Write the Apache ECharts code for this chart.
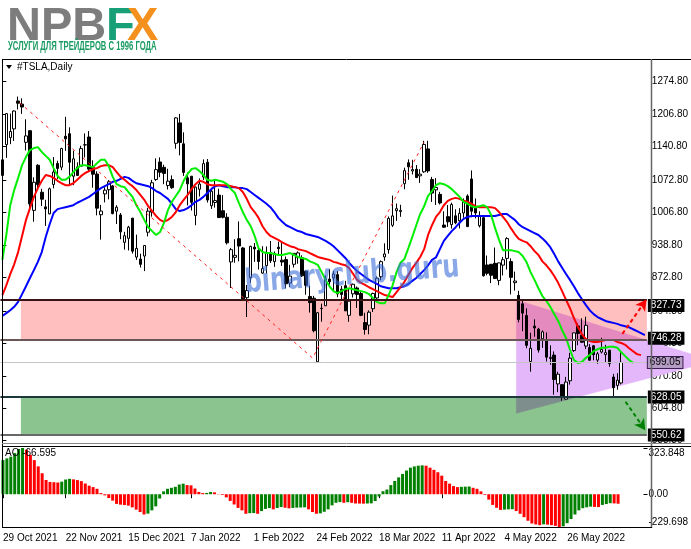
<!DOCTYPE html>
<html><head><meta charset="utf-8">
<script src="https://cdn.jsdelivr.net/npm/echarts/dist/echarts.min.js"></script>
<style>html,body{margin:0;padding:0;background:#fff;}#c{width:691px;height:549px;}</style>
</head><body><div id="c"></div>
<script>
// ---------- DATA ----------
const dates = ['2021-10-29','2021-11-01','2021-11-02','2021-11-03','2021-11-04','2021-11-05','2021-11-08','2021-11-09','2021-11-10','2021-11-11','2021-11-12','2021-11-15','2021-11-16','2021-11-17','2021-11-18','2021-11-19','2021-11-22','2021-11-23','2021-11-24','2021-11-26','2021-11-29','2021-11-30','2021-12-01','2021-12-02','2021-12-03','2021-12-06','2021-12-07','2021-12-08','2021-12-09','2021-12-10','2021-12-13','2021-12-14','2021-12-15','2021-12-16','2021-12-17','2021-12-20','2021-12-21','2021-12-22','2021-12-23','2021-12-27','2021-12-28','2021-12-29','2021-12-30','2021-12-31','2022-01-03','2022-01-04','2022-01-05','2022-01-06','2022-01-07','2022-01-10','2022-01-11','2022-01-12','2022-01-13','2022-01-14','2022-01-18','2022-01-19','2022-01-20','2022-01-21','2022-01-24','2022-01-25','2022-01-26','2022-01-27','2022-01-28','2022-01-31','2022-02-01','2022-02-02','2022-02-03','2022-02-04','2022-02-07','2022-02-08','2022-02-09','2022-02-10','2022-02-11','2022-02-14','2022-02-15','2022-02-16','2022-02-17','2022-02-18','2022-02-22','2022-02-23','2022-02-24','2022-02-25','2022-02-28','2022-03-01','2022-03-02','2022-03-03','2022-03-04','2022-03-07','2022-03-08','2022-03-09','2022-03-10','2022-03-11','2022-03-14','2022-03-15','2022-03-16','2022-03-17','2022-03-18','2022-03-21','2022-03-22','2022-03-23','2022-03-24','2022-03-25','2022-03-28','2022-03-29','2022-03-30','2022-03-31','2022-04-01','2022-04-04','2022-04-05','2022-04-06','2022-04-07','2022-04-08','2022-04-11','2022-04-12','2022-04-13','2022-04-14','2022-04-18','2022-04-19','2022-04-20','2022-04-21','2022-04-22','2022-04-25','2022-04-26','2022-04-27','2022-04-28','2022-04-29','2022-05-02','2022-05-03','2022-05-04','2022-05-05','2022-05-06','2022-05-09','2022-05-10','2022-05-11','2022-05-12','2022-05-13','2022-05-16','2022-05-17','2022-05-18','2022-05-19','2022-05-20','2022-05-23','2022-05-24','2022-05-25','2022-05-26','2022-05-27','2022-05-31','2022-06-01','2022-06-02','2022-06-03','2022-06-06','2022-06-07','2022-06-08','2022-06-09','2022-06-10','2022-06-13','2022-06-14','2022-06-15'];

// [open, high, low, close]
const ohlc = [
[1081.9,1115.2,1073.2,1114.0],[1145.0,1209.0,1118.0,1208.6],[1159.4,1208.6,1146.0,1172.0],[1177.3,1215.4,1152.6,1213.9],[1234.4,1243.5,1217.0,1229.9],
[1228.0,1239.9,1208.0,1222.1],[1149.8,1197.0,1133.0,1162.9],[1173.6,1174.5,1011.5,1023.5],[1010.4,1078.1,987.3,1068.0],[1102.8,1105.0,1054.7,1063.5],
[1047.5,1054.5,1019.2,1033.4],[1017.6,1032.0,978.6,1013.4],[1003.3,1057.2,1002.2,1054.7],[1063.5,1119.6,1055.5,1089.0],[1106.6,1112.0,1075.0,1096.4],
[1098.9,1138.7,1092.7,1137.1],[1162.3,1202.0,1132.4,1156.9],[1167.5,1180.5,1062.7,1109.0],[1080.4,1132.8,1062.0,1116.0],[1099.5,1108.8,1081.0,1081.9],
[1101.0,1142.7,1100.2,1137.0],[1144.4,1168.0,1118.7,1144.8],[1160.7,1172.8,1090.8,1095.0],[1099.1,1113.0,1056.7,1084.6],[1084.8,1090.6,1000.2,1015.0],
[1001.5,1021.6,950.5,1009.0],[1044.2,1057.7,1026.8,1051.8],[1052.7,1072.4,1033.0,1069.0],[1060.6,1062.5,1002.4,1003.8],[1008.8,1021.0,982.5,1017.0],
[1001.1,1005.0,951.4,966.4],[945.0,966.4,930.0,958.5],[953.2,978.8,928.3,976.0],[994.5,995.0,921.9,926.9],[914.8,960.7,909.0,932.6],
[910.7,921.7,893.4,899.9],[916.9,939.5,886.1,938.5],[965.7,1015.7,957.1,1008.9],[1006.8,1073.0,997.6,1067.0],[1073.7,1117.0,1070.7,1093.9],
[1109.5,1119.0,1078.4,1088.5],[1098.6,1104.0,1064.1,1086.2],[1061.3,1095.6,1053.2,1070.3],[1073.4,1082.0,1054.6,1056.8],[1147.8,1201.1,1136.7,1199.8],
[1189.6,1208.0,1123.1,1149.6],[1146.7,1170.3,1081.0,1088.1],[1077.0,1088.0,1020.5,1064.7],[1080.4,1080.9,1010.0,1027.0],[1000.0,1059.1,980.0,1058.1],
[1053.7,1075.9,1038.8,1064.4],[1078.9,1114.8,1072.6,1106.2],[1109.1,1115.6,1026.5,1031.6],[1019.9,1052.0,1013.4,1049.6],[1026.6,1070.8,1016.1,1030.5],
[1041.7,1054.7,995.0,995.7],[1009.7,1041.7,994.0,996.3],[996.3,1004.6,940.5,943.9],[904.8,933.5,851.5,930.0],[914.2,951.3,903.2,918.4],
[952.4,987.7,906.0,937.4],[933.4,935.4,829.0,829.1],[831.6,857.5,792.0,846.4],[872.7,938.0,862.1,936.7],[935.2,943.7,905.0,931.3],
[928.2,931.5,889.4,905.7],[882.0,937.0,880.5,891.1],[897.2,936.5,881.2,923.3],[923.8,947.8,902.7,907.3],[905.5,926.3,894.8,922.0],
[935.0,946.3,920.0,932.0],[908.4,943.8,896.7,904.6],[909.6,916.0,850.7,860.0],[861.6,898.9,853.2,875.8],[900.0,923.0,893.4,922.4],
[914.1,926.4,901.2,923.4],[913.3,918.5,874.1,876.4],[886.0,886.9,837.6,857.0],[834.1,856.7,801.1,821.5],[830.4,835.3,760.6,764.0],
[700.4,802.5,700.0,800.8],[809.2,819.5,782.4,809.9],[815.0,876.9,814.7,870.4],[869.7,889.9,853.8,864.4],[872.1,886.5,844.3,879.9],
[878.8,886.4,832.6,839.3],[849.1,855.7,825.2,838.3],[856.3,866.1,804.6,804.6],[795.5,850.0,782.2,824.4],[839.5,860.6,832.0,859.0],
[851.5,854.5,810.4,838.3],[840.2,843.8,793.8,795.4],[780.6,800.7,756.0,766.4],[775.3,805.6,756.6,801.9],[809.0,842.0,802.3,840.2],
[831.0,875.0,825.7,871.6],[874.5,907.9,867.4,905.4],[915.0,942.9,907.1,921.2],[930.0,997.9,921.8,994.0],[979.9,1040.7,976.4,999.1],
[1009.7,1024.5,988.8,1013.9],[1008.0,1021.8,997.3,1010.6],[1065.1,1097.9,1053.6,1091.8],[1108.0,1114.8,1073.1,1099.6],[1091.2,1114.0,1084.0,1094.0],
[1094.6,1103.1,1076.6,1077.6],[1081.2,1094.8,1066.6,1084.6],[1089.4,1152.9,1087.3,1145.5],[1136.3,1152.9,1087.3,1091.3],[1073.5,1079.0,1027.7,1045.8],
[1052.4,1076.6,1021.5,1057.3],[1043.2,1048.4,1022.4,1025.5],[980.4,1008.5,974.6,975.9],[997.6,1021.2,976.6,987.0],[981.1,1026.2,973.1,1022.4],
[999.3,1012.7,982.2,985.0],[989.0,1014.9,973.4,1004.3],[1005.1,1034.9,995.3,1028.2],[1040.0,1043.4,978.0,977.2],[1074.7,1092.2,996.4,1008.8],
[1014.9,1034.9,994.0,1005.1],[979.0,1008.6,975.3,998.0],[995.4,1000.0,875.0,876.4],[898.6,918.0,877.4,881.5],[900.0,900.0,861.5,877.5],
[902.0,934.4,870.0,870.8],[867.0,903.0,857.1,902.9],[898.3,915.0,877.2,909.3],[912.1,955.5,889.3,952.6],[905.6,912.2,838.3,873.3],
[862.3,885.0,846.1,865.7],[836.5,845.6,781.2,787.1],[819.0,826.9,763.0,800.0],[795.0,809.8,728.0,734.0],[701.0,759.7,680.0,728.0],
[773.5,787.4,751.6,769.6],[767.2,769.8,719.1,724.4],[747.4,764.5,728.9,761.6],[744.5,760.5,700.8,709.8],[707.0,734.0,694.1,709.4],
[714.0,721.6,633.0,663.9],[655.0,680.0,638.1,674.9],[653.5,653.9,620.6,628.2],[623.9,669.3,623.0,658.8],[661.4,718.7,653.7,707.7],
[723.3,759.8,720.5,759.6],[773.8,778.8,734.2,758.3],[755.2,789.4,739.5,740.4],[732.6,792.6,726.2,775.0],[729.6,736.5,702.9,703.6],
[733.1,734.6,703.4,714.8],[703.8,720.6,696.3,716.7],[720.3,749.5,717.4,725.6],[715.0,735.0,698.9,719.1],[723.9,725.1,690.2,696.7],
[669.0,675.5,630.0,647.2],[652.0,677.1,643.0,662.7],[657.0,722.5,654.0,699.05]
];

// Alligator lines (already shifted forward, one value per bar slot)
const lips = [909,960,1021,1052,1077,1103,1120,1134,1138,1140,1130,1122,1114,1097,1081,1073,1073,1079,1089,1097,
1103,1103,1101,1099,1107,1114,1114,1101,1079,1064,1060,1058,1048,1038,1021,1007,991,976,968,960,
966,985,1011,1028,1040,1052,1071,1085,1095,1097,1091,1083,1073,1071,1073,1071,1069,1064,1054,1046,
1026,1007,991,978,958,933,925,923,923,921,919,919,921,923,919,915,913,911,906,903,
899,884,868,855,845,841,845,849,851,849,847,845,843,839,831,823,820,820,837,857,
884,903,911,933,956,980,1003,1019,1040,1050,1062,1066,1064,1060,1054,1046,1038,1028,1024,1019,
1017,1019,1021,1017,1001,974,950,929,929,929,927,925,917,904,884,868,851,835,825,813,
798,784,765,749,725,704,698,700,708,714,722,726,729,729,731,731,729,720,712,704,698];
const teeth = [837,857,880,900,925,958,991,1015,1038,1056,1071,1083,1081,1077,1071,1066,1062,1062,1066,1073,
1081,1087,1091,1095,1097,1101,1103,1103,1099,1089,1079,1073,1066,1060,1052,1042,1032,1019,1009,999,
991,987,991,997,1007,1021,1032,1042,1054,1064,1071,1069,1064,1062,1062,1062,1062,1062,1060,1058,
1056,1048,1034,1017,1007,995,978,966,958,954,950,945,941,937,935,931,929,927,923,919,
915,913,911,909,905,903,900,898,892,880,868,862,858,853,849,845,841,837,835,833,
843,853,864,878,892,903,915,931,960,980,997,1007,1021,1030,1034,1036,1034,1030,1028,1024,
1019,1017,1017,1017,1017,1015,1007,997,987,974,962,952,948,945,937,927,919,906,898,888,
876,862,845,827,810,790,772,757,747,743,741,741,743,745,745,745,741,739,735,728,722,716,714];
const jaw = [794,800,806,813,823,839,855,872,888,905,925,956,982,1005,1013,1015,1017,1019,1021,1026,
1030,1034,1038,1044,1050,1056,1060,1064,1069,1071,1075,1079,1077,1071,1066,1064,1062,1060,1056,1050,
1046,1040,1034,1024,1013,1009,1011,1015,1021,1028,1032,1038,1046,1054,1060,1062,1060,1058,1058,1058,
1056,1056,1054,1048,1042,1036,1030,1024,1017,1007,995,987,980,976,972,968,966,962,960,958,
956,952,948,943,937,929,921,913,903,894,886,880,874,868,864,860,855,853,851,851,
851,853,855,860,866,872,880,888,898,909,914,931,948,958,968,976,985,993,997,999,
999,999,999,999,999,999,1001,1003,1003,997,991,982,976,972,968,964,960,953,945,935,
921,906,893,880,868,855,841,829,817,806,798,792,788,784,782,780,778,775,773,771,767,763,759,755];

// Awesome Oscillator
const ao = [239,251,263,288,317,323.848,312,276,239,195,147,100,86,84,82,88,103,108,104,99,
92,75,60,50,38,8,-8,-27,-45,-68,-73,-76,-80,-92,-108,-125,-142,-136,-113,-85,
-30,20,38,45,52,68,74,64,62,40,16,8,9,16,13,2,-5,-22,-47,-72,
-96,-113,-137,-133,-132,-137,-118,-103,-97,-106,-97,-90,-95,-99,-96,-94,-93,-92,-106,-125,
-137,-134,-123,-106,-78,-60,-55,-60,-56,-60,-65,-65.5,-66,-65,-64,-48,-16,21,33,64,
93,118,142,166,186,195,200,202,200,186,171,154,130,93,74,57,50,52,53,54,
45,38,20,-5,-38,-75,-95,-110,-108,-106,-105,-118,-137,-161,-186,-205,-212,-217,-211,-213,
-217,-222,-229.698,-225,-203,-174,-142,-113,-98,-92,-87,-89,-90,-75,-69,-63,-64.5,-66.595];

const priceTicks = [538.8,604.8,670.8,738.8,804.8,872.8,938.8,1006.8,1072.8,1140.8,1206.8,1274.8];
const aoTicks = [-229.698, 0, 323.848];
const months = ['Jan','Feb','Mar','Apr','May','Jun','Jul','Aug','Sep','Oct','Nov','Dec'];

// Levels (FE 61.8, box edge, bid, FE 100, lower edge)
const levelFE618 = 827.73, levelMid = 746.28, levelBid = 699.05, levelFE100 = 628.05, levelLow = 550.62;
const zones = [[4.7, 827.73, 746.28],[4.7, 628.05, 550.62]];
const fibPoints = [[4.4,1230.7],[78.7,708],[107,1150.75]];
const triangle = [[130.4,827],[130.4,595],[180.5,702]];
const arrowUp = [[157.3,757.6],[163.4,828]];
const arrowDown = [[158.1,618.6],[163.1,560]];

// ---------- CHART ----------
const N = 164;
const cats = dates.concat(new Array(N - dates.length).fill(''));
const FONT = 'Liberation Sans, Arial, sans-serif';
const fmtDate = s => { const p = s.split('-'); return (+p[2]) + ' ' + months[+p[1]-1] + ' ' + p[0]; };
const tickFn = (i) => i % 16 === 0 && i < dates.length;
const zoneFills = ['#ffbfbf', '#8cc48f'];
const triFill = {plain:'rgb(228,182,250)', pink:'rgb(228,138,190)', green:'rgb(126,142,140)'};

// clip a polygon (pixel points) to a horizontal band y0<=y<=y1
function clipBand(pts, y0, y1) {
  const clip = (poly, keep, cut) => {
    const out = [];
    for (let k = 0; k < poly.length; k++) {
      const a = poly[k], b = poly[(k+1) % poly.length];
      const ia = keep(a), ib = keep(b);
      if (ia) out.push(a);
      if (ia !== ib) { const t = (cut - a[1]) / (b[1] - a[1]); out.push([a[0] + t*(b[0]-a[0]), cut]); }
    }
    return out;
  };
  let p = clip(pts, q => q[1] >= y0, y0);
  if (p.length) p = clip(p, q => q[1] <= y1, y1);
  return p;
}

const chart = echarts.init(document.getElementById('c'), null, {renderer:'canvas', width:691, height:549});

const lvlLabel = (extra) => Object.assign({show:true, position:'end', distance:1, formatter:(p)=>p.value.toFixed(2),
  backgroundColor:'#000', color:'#fff', fontSize:10, fontFamily:FONT, padding:[2,3,1,3]}, extra||{});

const option = {
  backgroundColor:'#fff',
  animation:false,
  grid:[
    {left:0.4, right:39.5, top:60, height:383},
    {left:0.4, right:39.5, top:448, height:79}
  ],
  xAxis:[
    {type:'category', gridIndex:0, data:cats, boundaryGap:true, show:false},
    {type:'category', gridIndex:1, data:cats, boundaryGap:true,
      axisLine:{show:false},
      axisTick:{show:true, interval:tickFn, alignWithLabel:true, length:4, lineStyle:{color:'#000'}},
      axisLabel:{interval:tickFn, formatter:(v)=> v ? fmtDate(v) : '', align:'left', margin:6, color:'#000', fontSize:10, fontFamily:FONT},
      splitLine:{show:false}},
    {type:'value', gridIndex:0, min:-0.5, max:163.5, show:false}
  ],
  yAxis:[
    {type:'value', gridIndex:0, position:'right', min:534, max:1318.4, scale:true,
      axisLine:{show:false}, splitLine:{show:false},
      axisTick:{show:true, customValues:priceTicks, length:4, lineStyle:{color:'#000'}},
      axisLabel:{customValues:priceTicks, formatter:(v)=>v.toFixed(2), color:'#000', fontSize:10, fontFamily:FONT, margin:5}},
    {type:'value', gridIndex:1, position:'right', min:-229.698, max:323.848,
      axisLine:{show:false}, splitLine:{show:false},
      axisTick:{show:true, customValues:aoTicks, length:4, lineStyle:{color:'#000'}},
      axisLabel:{customValues:aoTicks, formatter:(v)=> Math.abs(v) < 1e-9 ? '0.00' : v.toFixed(3), color:'#000', fontSize:10, fontFamily:FONT, margin:5,
        verticalAlignMaxLabel:'top', verticalAlignMinLabel:'bottom'}}
  ],
  series:[
    {type:'custom', name:'zones', xAxisIndex:2, yAxisIndex:0, z:1, silent:true, clip:false,
      data:zones,
      renderItem:(params, api)=>{
        const cs = params.coordSys;
        const p1 = api.coord([api.value(0), api.value(1)]);
        const p2 = api.coord([api.value(0), api.value(2)]);
        return {type:'rect', shape:{x:p1[0], y:p1[1], width:cs.x + cs.width - p1[0], height:p2[1]-p1[1]}, style:{fill:zoneFills[params.dataIndex]}};
      }},
    {type:'custom', name:'triangle', xAxisIndex:2, yAxisIndex:0, z:2, silent:true, clip:false,
      data:[[triangle[0][0], triangle[0][1]]],
      renderItem:(params, api)=>{
        const pts = triangle.map(p => api.coord(p));
        const yPinkTop = api.coord([0, zones[0][1]])[1], yPinkBot = api.coord([0, zones[0][2]])[1];
        const yGrTop = api.coord([0, zones[1][1]])[1], yGrBot = api.coord([0, zones[1][2]])[1];
        const bands = [
          [-1e4, yPinkTop, triFill.plain], [yPinkTop, yPinkBot, triFill.pink], [yPinkBot, yGrTop, triFill.plain],
          [yGrTop, yGrBot, triFill.green], [yGrBot, 1e4, triFill.plain]
        ];
        const children = [];
        bands.forEach(b => {
          const poly = clipBand(pts, b[0], b[1]);
          if (poly.length >= 3) children.push({type:'polygon', shape:{points:poly}, style:{fill:b[2], stroke:b[2], lineWidth:0.5}});
        });
        return {type:'group', children};
      }},
    {type:'candlestick', name:'TSLA', xAxisIndex:0, yAxisIndex:0, z:3, silent:true, barWidth:3,
      data: ohlc.map(d => [d[0], d[3], d[2], d[1]]),
      itemStyle:{color:'#ffffff', color0:'#000000', borderColor:'#000000', borderColor0:'#000000', borderWidth:1},
      markLine:{silent:true, symbol:'none', animation:false, precision:2,
        data:[
          {yAxis:levelBid, lineStyle:{color:'#c4c4c4', width:1, type:'solid'}, label:lvlLabel({backgroundColor:'#b49cc4', color:'#000', borderColor:'#3a2050', borderWidth:1, padding:[1,2,0,2]})},
          {yAxis:levelFE618, lineStyle:{color:'#3a1414', width:2, type:'solid'}, label:lvlLabel({offset:[0,6]})},
          {yAxis:levelMid, lineStyle:{color:'#6a5656', width:2, type:'solid'}, label:lvlLabel({offset:[0,-1]})},
          {yAxis:levelFE100, lineStyle:{color:'#1c3838', width:2, type:'solid'}, label:lvlLabel()},
          {yAxis:levelLow, lineStyle:{color:'#686868', width:2, type:'solid'}, label:lvlLabel()},
          {yAxis:levelFE618, lineStyle:{opacity:0}, label:{show:true, position:'insideEndTop', distance:[3,2], formatter:'FE 61.8', color:'#1a1a66', fontSize:10, fontFamily:FONT}},
          {yAxis:levelFE100, lineStyle:{opacity:0}, label:{show:true, position:'insideEndTop', distance:[3,2], formatter:'FE 100.0', color:'#1a1a66', fontSize:10, fontFamily:FONT}}
        ]}},
    {type:'line', name:'Jaw', xAxisIndex:0, yAxisIndex:0, z:4, data:jaw, showSymbol:false, silent:true, lineStyle:{color:'#0000ff', width:2}},
    {type:'line', name:'Teeth', xAxisIndex:0, yAxisIndex:0, z:4, data:teeth, showSymbol:false, silent:true, lineStyle:{color:'#ff0000', width:2}},
    {type:'line', name:'Lips', xAxisIndex:0, yAxisIndex:0, z:4, data:lips, showSymbol:false, silent:true, lineStyle:{color:'#00ee00', width:2}},
    {type:'line', name:'FE', xAxisIndex:2, yAxisIndex:0, z:5, data:fibPoints, showSymbol:false, silent:true,
      lineStyle:{color:'#ff2020', width:1, type:[3,4]},
      markLine:{silent:true, symbol:['none','arrow'], symbolSize:[9,11], animation:false, label:{show:false},
        data:[
          [{coord:arrowUp[0], lineStyle:{color:'#ff0000', width:2, type:[4,3]}, itemStyle:{color:'#ff0000'}}, {coord:arrowUp[1]}],
          [{coord:arrowDown[0], lineStyle:{color:'#008000', width:2, type:[4,3]}, itemStyle:{color:'#008000'}}, {coord:arrowDown[1]}]
        ]}},
    {type:'bar', name:'AO', xAxisIndex:1, yAxisIndex:1, barWidth:3, silent:true,
      data: ao.map((v,i)=>({value:v, itemStyle:{color: (i===0 || v > ao[i-1]) ? '#008000' : '#ff0000'}}))}
  ],
  graphic:[
    // logo
    {type:'text', x:7, y:4, z:100, style:{text:'NPB', fill:'#7d7d7d', font:'bold 47px Liberation Sans, Arial, sans-serif'}},
    {type:'text', x:106, y:4, z:100, style:{text:'F', fill:'#17a078', font:'bold 47px Liberation Sans, Arial, sans-serif'}},
    {type:'text', x:127, y:4, z:100, style:{text:'X', fill:'#f4901e', font:'bold 47px Liberation Sans, Arial, sans-serif'}},
    {type:'text', x:8, y:41, z:100, scaleX:0.64, style:{text:'УСЛУГИ ДЛЯ ТРЕЙДЕРОВ С 1996 ГОДА', fill:'#1a9b62', font:'bold 12px Liberation Sans, Arial, sans-serif'}},
    // chart title
    {type:'polygon', z:100, shape:{points:[[6,65],[12,65],[9,69]]}, style:{fill:'#000'}},
    {type:'text', x:17, y:62, z:100, style:{text:'#TSLA,Daily', fill:'#000', font:'10px Liberation Sans, Arial, sans-serif'}},
    {type:'text', x:5, y:448, z:100, style:{text:'AO ' + ao[ao.length-1].toFixed(3), fill:'#000', font:'10px Liberation Sans, Arial, sans-serif'}},
    // watermark
    {type:'text', x:246, y:300, z:110, rotation:0.075, scaleY:1.35, style:{text:'binaryclub.guru', fill:'rgba(60,110,215,0.6)', font:'bold 24px DejaVu Sans, sans-serif', verticalAlign:'bottom'}},
    // frames
    {type:'line', z:100, shape:{x1:2, y1:59.5, x2:691, y2:59.5}, style:{stroke:'#000', lineWidth:1}},
    {type:'line', z:100, shape:{x1:2.5, y1:59, x2:2.5, y2:528}, style:{stroke:'#000', lineWidth:1}},
    {type:'line', z:100, shape:{x1:651.5, y1:59, x2:651.5, y2:528}, style:{stroke:'#666', lineWidth:1.5}},
    {type:'line', z:100, shape:{x1:2, y1:443.5, x2:691, y2:443.5}, style:{stroke:'#888', lineWidth:1}},
    {type:'line', z:100, shape:{x1:2, y1:446.5, x2:691, y2:446.5}, style:{stroke:'#000', lineWidth:1}},
    {type:'line', z:100, shape:{x1:2, y1:527.5, x2:652, y2:527.5}, style:{stroke:'#000', lineWidth:1}}
  ]
};
chart.setOption(option);
</script>
</body></html>
